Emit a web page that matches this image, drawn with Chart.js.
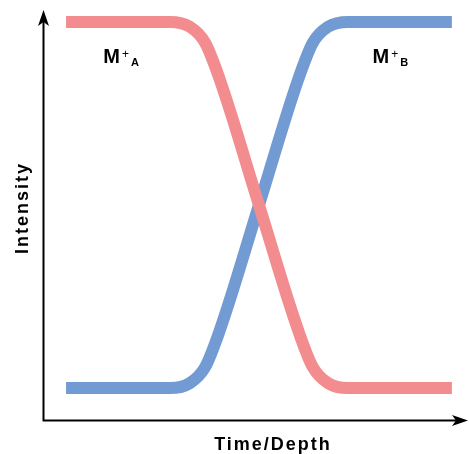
<!DOCTYPE html>
<html>
<head>
<meta charset="utf-8">
<script src="https://cdn.jsdelivr.net/npm/chart.js@4/dist/chart.umd.min.js"></script>
<style>
  body { margin: 0; background: #fff; }
  #wrap { width: 469px; height: 454px; }
</style>
</head>
<body>
<div id="wrap"><canvas id="sketch"></canvas></div>
<script>
// Time/Depth positions (0-100) and the two ion intensities
const timeDepth = [5.2, 29.7, 34.4, 38.0, 41.5, 50.7, 59.9, 63.4, 67.0, 71.7, 96.2];
const intensityA = [97.1, 97.1, 95.9, 92.0, 82.9, 52.4, 22.0, 12.9, 9.0, 7.8, 7.8];
const intensityB = [7.8, 7.8, 9.0, 12.9, 22.0, 52.4, 82.9, 92.0, 95.9, 97.1, 97.1];

const seriesNames = ["A", "B"];
const labelTime = [14.0, 77.5];   // where the M+ labels sit
const labelLevel = 87.0;

const redColor = "rgb(242,140,142)";
const blueColor = "rgb(114,155,211)";

function toPoints(ys) {
    return timeDepth.map((t, i) => ({ x: t, y: ys[i] }));
}

// Axes with arrowheads, axis titles and M+ labels
const decorations = {
    id: "decorations",
    afterDraw(chart) {
        let ctx = chart.ctx;
        let area = chart.chartArea;
        let xs = chart.scales.x;
        let ys = chart.scales.y;
        ctx.save();

        // axis lines
        ctx.strokeStyle = "#000";
        ctx.lineWidth = 2;
        ctx.beginPath();
        ctx.moveTo(area.left - 0.5, area.top + 8);
        ctx.lineTo(area.left - 0.5, area.bottom + 0.5);
        ctx.lineTo(area.right - 8, area.bottom + 0.5);
        ctx.stroke();

        // arrow heads
        ctx.fillStyle = "#000";
        let ax = area.left - 0.5;
        ctx.beginPath();
        ctx.moveTo(ax, area.top);
        ctx.lineTo(ax + 5.5, area.top + 16);
        ctx.lineTo(ax, area.top + 12);
        ctx.lineTo(ax - 5.5, area.top + 16);
        ctx.closePath();
        ctx.fill();
        let ay = area.bottom + 0.5;
        ctx.beginPath();
        ctx.moveTo(area.right, ay);
        ctx.lineTo(area.right - 16, ay - 5.5);
        ctx.lineTo(area.right - 12, ay);
        ctx.lineTo(area.right - 16, ay + 5.5);
        ctx.closePath();
        ctx.fill();

        // axis titles
        ctx.font = "bold 18px 'Liberation Sans', Arial, sans-serif";
        ctx.letterSpacing = "2px";
        ctx.textAlign = "center";
        ctx.textBaseline = "alphabetic";
        ctx.fillText("Time/Depth", 273, 450);
        ctx.save();
        ctx.translate(28, (area.top + area.bottom) / 2 - 7);
        ctx.rotate(-Math.PI / 2);
        ctx.fillText("Intensity", 0, 0);
        ctx.restore();
        ctx.letterSpacing = "0px";

        // M+ labels
        ctx.textAlign = "left";
        seriesNames.forEach((name, i) => {
            let px = xs.getPixelForValue(labelTime[i]);
            let py = ys.getPixelForValue(labelLevel);
            ctx.font = "bold 20px 'Liberation Sans', Arial, sans-serif";
            ctx.fillText("M", px, py);
            let w = ctx.measureText("M").width;
            ctx.font = "12px 'Liberation Sans', Arial, sans-serif";
            ctx.fillText("+", px + w + 2, py - 5);
            ctx.font = "bold 11px 'Liberation Sans', Arial, sans-serif";
            ctx.fillText(name, px + w + 11, py + 3);
        });
        ctx.restore();
    }
};

new Chart(document.getElementById("sketch"), {
    type: "line",
    data: {
        datasets: [
            {
                label: "M+A",
                data: toPoints(intensityA),
                borderColor: redColor,
                borderWidth: 12,
                borderCapStyle: "butt",
                cubicInterpolationMode: "monotone",
                pointRadius: 0,
                fill: false
            },
            {
                label: "M+B",
                data: toPoints(intensityB),
                borderColor: blueColor,
                borderWidth: 12,
                borderCapStyle: "butt",
                cubicInterpolationMode: "monotone",
                pointRadius: 0,
                fill: false
            }
        ]
    },
    options: {
        responsive: true,
        maintainAspectRatio: false,
        animation: false,
        devicePixelRatio: 1,
        layout: { padding: { left: 44, right: 1, top: 10, bottom: 34 } },
        scales: {
            x: { type: "linear", min: 0, max: 100, display: false },
            y: { type: "linear", min: 0, max: 100, display: false }
        },
        plugins: {
            legend: { display: false },
            tooltip: { enabled: false }
        }
    },
    plugins: [decorations]
});
</script>
</body>
</html>
